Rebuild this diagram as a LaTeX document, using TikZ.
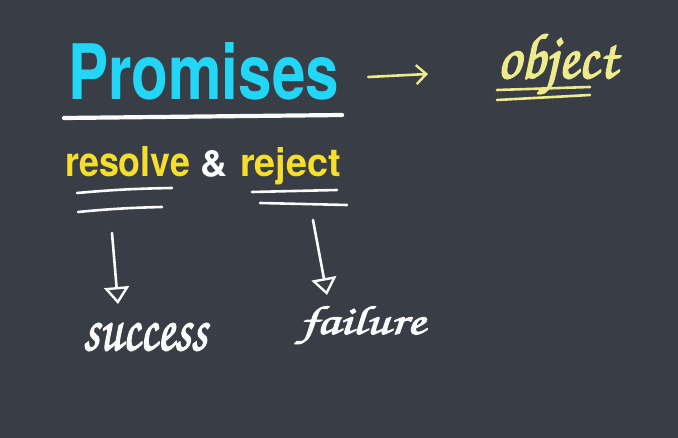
\documentclass[tikz,border=0pt]{standalone}
\usepackage[T1,TU]{fontenc}
\usepackage{fontspec}
\setsansfont{TeX Gyre Heros}
\usepackage{graphicx}
\usepackage{tikz}
\usetikzlibrary{arrows.meta, positioning, calc}
\definecolor{board}{HTML}{383D46}
\definecolor{promisecyan}{HTML}{22D6F6}
\definecolor{keyyellow}{HTML}{F6DE2C}
\definecolor{chalkyellow}{HTML}{EEEB8C}
\definecolor{chalkwhite}{HTML}{FAFAFA}
\newcommand{\handfont}{\fontencoding{T1}\fontfamily{pzc}\fontseries{mb}\fontshape{it}\selectfont}
% thicker strokes for the handwritten words
\newcommand{\inked}[1]{\special{pdf:literal direct 2 Tr 0.22 w 1 J 1 j}#1\special{pdf:literal direct 0 Tr}}

\begin{document}
\begin{tikzpicture}[
  x=1pt, y=-1pt,
  every node/.style={inner sep=0pt, outer sep=0pt},
  headline/.style={font=\sffamily\bfseries, text=promisecyan, anchor=base west},
  keyword/.style={font=\sffamily\bfseries, text=keyyellow, anchor=base west},
  scrawl/.style={font=\handfont, anchor=base west},
  chalk/.style={line width=2.6pt, line cap=round, line join=round, draw=chalkwhite},
  chalkline/.style={chalk, draw=chalkyellow},
  chalkarrow/.style={chalk, -{Triangle[open, length=17pt, width=25pt, line width=2.4pt]}},
  pointer/.style={chalkline, -{Straight Barb[length=10pt, width=19pt, line width=2.4pt]}}
]

% === BACKGROUND ===
\fill[board] (0,0) rectangle (678,438);
\useasboundingbox (0,0) rectangle (678,438);

% === ROW 1: Promises -> object ===
\node[headline] (promises) at (68,100) {\resizebox{271pt}{57pt}{Promises}};
\node[scrawl, text=chalkyellow] (object) at (497,78) {\resizebox{120pt}{46pt}{\inked{object}}};

\draw[chalk, line width=4.2pt] ($(promises.base west)+(-4,18)$) -- ($(promises.base east)+(3,15)$);

\coordinate (pointfrom) at ($(promises.base east)+(29,-23)$);
\coordinate (pointto) at ($(object.base west)+(-69,-4)$);
\draw[pointer] (pointfrom) -- (pointto);

% double underline of object
\draw[chalkline] ($(object.base west)+(0,12)$) -- ($(object.base west)+(93,9)$);
\draw[chalkline] ($(object.base west)+(0,22)$) -- ($(object.base west)+(93,17)$);

% === ROW 2: resolve & reject ===
\node[keyword] (resolve) at (65,177) {\resizebox{125pt}{30pt}{resolve}};
\node[keyword, text=white] (amp) at (200,177) {\resizebox{27pt}{26pt}{\&}};
\node[keyword] (reject) at (240,177) {\resizebox{101pt}{29pt}{reject}};

% underlines
\draw[chalk] ($(resolve.base west)+(12,16)$) to[bend left=2] ($(resolve.base west)+(107,11)$);
\draw[chalk] ($(resolve.base west)+(13,35)$) to[bend left=2] ($(resolve.base west)+(97,30)$);
\draw[chalk] ($(reject.base west)+(12,15)$) -- ($(reject.base west)+(97,13)$);
\draw[chalk] ($(reject.base west)+(20,26)$) -- ($(reject.base west)+(107,28)$);

% === ROW 3: outcomes ===
\node[scrawl, text=chalkwhite] (success) at (83,350) {\resizebox{124pt}{28pt}{\inked{success}}};
\node[scrawl, text=chalkwhite] (failure) at (300,334) {\resizebox{125pt}{29pt}{\inked{failure}}};

\coordinate (oktop) at (112,233);
\coordinate (oktip) at (118,304);
\coordinate (failtop) at (313,220);
\coordinate (failtip) at (327,295);
\draw[chalkarrow] (oktop) -- (oktip);
\draw[chalkarrow] (failtop) -- (failtip);

\end{tikzpicture}
\end{document}
